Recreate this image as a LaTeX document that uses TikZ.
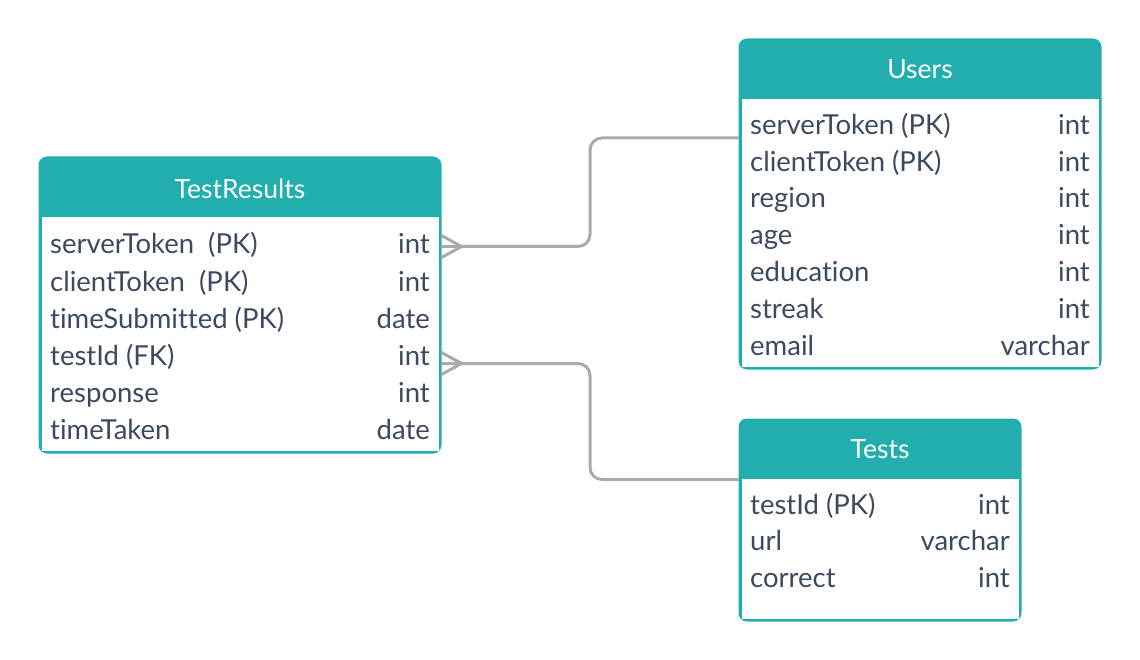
\documentclass[tikz,border=0pt]{standalone}
\usepackage{fontspec}
\setmainfont{Lato}[Ligatures=NoCommon]
\usetikzlibrary{calc}
\definecolor{tblteal}{HTML}{22AEAE}
\definecolor{fldtext}{HTML}{3B4A5E}
\definecolor{linkgray}{HTML}{AAAAAA}

\begin{document}
\begin{tikzpicture}[x=1pt, y=-1pt,
  every node/.style={font=\fontsize{27.5}{33}\selectfont, inner sep=0pt},
  tbl/.style={draw=tblteal, fill=tblteal, line width=3pt, rounded corners=7pt},
  hdr/.style={text=white, anchor=base, font=\fontsize{26.5}{32}\selectfont},
  fld/.style={text=fldtext, anchor=base west},
  typ/.style={text=fldtext, anchor=base east},
  link/.style={draw=linkgray, line width=3pt, rounded corners=12pt}]
\useasboundingbox (0,0) rectangle (1140,660);

% tables
\node[tbl, minimum width=400pt, minimum height=294pt] (tr) at (240,305) {};
\node[tbl, minimum width=360pt, minimum height=328pt] (us) at (920,204) {};
\node[tbl, minimum width=280pt, minimum height=200pt] (ts) at (880,520) {};
\foreach \t in {tr,us,ts}
  \fill[white] ($(\t.north west)+(3,60.5)$) rectangle ($(\t.south east)+(-3,-3)$);

% headers
\node[hdr] (tr-h) at ($(tr.north)+(0,41.8)$) {TestResults};
\node[hdr] (us-h) at ($(us.north)+(0,39.8)$) {Users};
\node[hdr] (ts-h) at ($(ts.north)+(0,39.8)$) {Tests};

% fields
\foreach \f/\ty [count=\i] in {serverToken\ \ (PK)/int, clientToken\ \ (PK)/int,
    timeSubmitted (PK)/date, testId (FK)/int, response/int, timeTaken/date}
{
  \node[fld] (tr-\i) at ($(tr.north west)+(11.5,97.5+37*\i-37)$) {\f};
  \node[typ] (tr-t\i) at ($(tr.north east)+(-11.5,97.5+37*\i-37)$) {\ty};
}
\foreach \f/\ty [count=\i] in {serverToken (PK)/int, clientToken (PK)/int,
    region/int, age/int, education/int, streak/int, email/varchar}
{
  \node[fld] (us-\i) at ($(us.north west)+(11.5,95.8+36.8*\i-36.8)$) {\f};
  \node[typ] (us-t\i) at ($(us.north east)+(-11.5,95.8+36.8*\i-36.8)$) {\ty};
}
\foreach \f/\ty [count=\i] in {testId (PK)/int, url/varchar, correct/int}
{
  \node[fld] (ts-\i) at ($(ts.north west)+(11.5,95.8+36.5*\i-36.5)$) {\f};
  \node[typ] (ts-t\i) at ($(ts.north east)+(-11.5,95.8+36.5*\i-36.5)$) {\ty};
}

% relations
\coordinate (mid) at ($(tr.east)!0.5!(us.west)$);
\coordinate (tr-a) at ($(tr.north east)+(0,90)$);
\coordinate (tr-b) at ($(tr.north east)+(0,207)$);
\coordinate (us-a) at ($(us.north west)+(0,99.5)$);
\coordinate (ts-a) at ($(ts.north west)+(0,61)$);
\draw[link] (us-a) -- (mid |- us-a) -- (mid |- tr-a) -- (tr-a);
\draw[link] (ts-a) -- (mid |- ts-a) -- (mid |- tr-b) -- (tr-b);

% crow's feet
\foreach \c in {tr-a,tr-b}
{
  \draw[link, rounded corners=0pt] ($(\c)+(20,0)$) -- ++(-20,-11);
  \draw[link, rounded corners=0pt] ($(\c)+(20,0)$) -- ++(-20,11);
}
\end{tikzpicture}
\end{document}
